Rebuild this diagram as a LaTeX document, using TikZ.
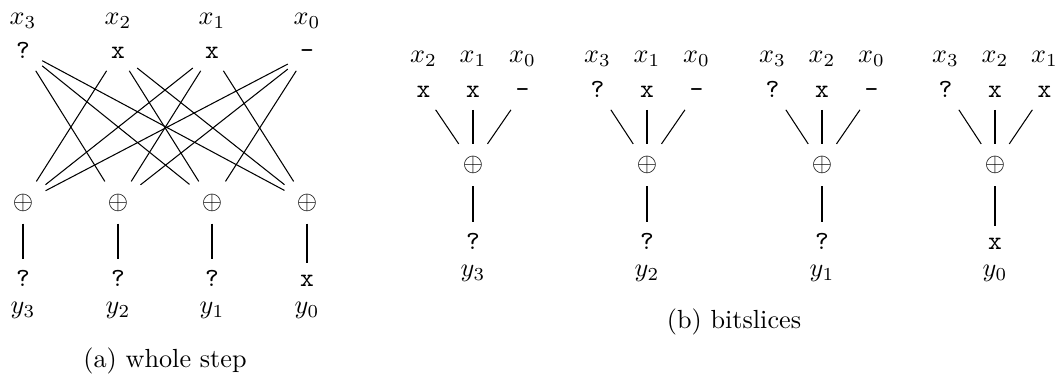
\documentclass[tikz,border=0pt]{standalone}
\begin{document}
\begin{tikzpicture}[x=0.3817pt,y=-0.3817pt,
  bit/.style={inner sep=4.5pt, font=\ttfamily, anchor=base},
  lab/.style={inner sep=0pt, anchor=base},
  xorop/.style={inner sep=4.5pt},
  wire/.style={line width=0.4pt}]
\useasboundingbox (0,0) rectangle (1057,376);
% (a) whole step
\foreach \i/\cx/\v/\o in {3/23/?/?, 2/118/x/?, 1/212/x/?, 0/307/-/x} {
  \node[lab] (xa\i) at (\cx,25) {$x_\i$};
  \node[bit] (ia\i) at (\cx,58.5) {\v};
  \node[xorop] (pa\i) at (\cx,202.5) {$\oplus$};
  \node[bit] (oa\i) at (\cx,287) {\o};
  \node[lab] (ya\i) at (\cx,314) {$y_\i$};
}
\foreach \o in {0,...,3} {
  \foreach \i in {0,...,3} {
    \ifnum\i=\o\relax\else \draw[wire] (ia\i) -- (pa\o);\fi
  }
  \draw[wire] (pa\o) -- (oa\o);
}
\node[lab] (capa) at (165,368) {(a) whole step};
% (b) bitslices
\foreach \o/\c/\a/\b/\d/\va/\vb/\vd/\r in {3/473/2/1/0/x/x/-/?, 2/647/3/1/0/?/x/-/?, 1/822/3/2/0/?/x/-/?, 0/995/3/2/1/?/x/x/x} {
  \node[lab] (xb\o\a) at (\c-49.5,63) {$x_\a$};
  \node[lab] (xb\o\b) at (\c,63) {$x_\b$};
  \node[lab] (xb\o\d) at (\c+49.5,63) {$x_\d$};
  \node[bit] (ib\o\a) at (\c-49.5,97.5) {\va};
  \node[bit] (ib\o\b) at (\c,97.5) {\vb};
  \node[bit] (ib\o\d) at (\c+49.5,97.5) {\vd};
  \node[xorop] (pb\o) at (\c,165) {$\oplus$};
  \node[bit] (ob\o) at (\c,250) {\r};
  \node[lab] (yb\o) at (\c,277) {$y_\o$};
  \draw[wire] (ib\o\a) -- (pb\o);
  \draw[wire] (ib\o\b) -- (pb\o);
  \draw[wire] (ib\o\d) -- (pb\o);
  \draw[wire] (pb\o) -- (ob\o);
}
\node[lab] (capb) at (734,329) {(b) bitslices};
\end{tikzpicture}
\end{document}
